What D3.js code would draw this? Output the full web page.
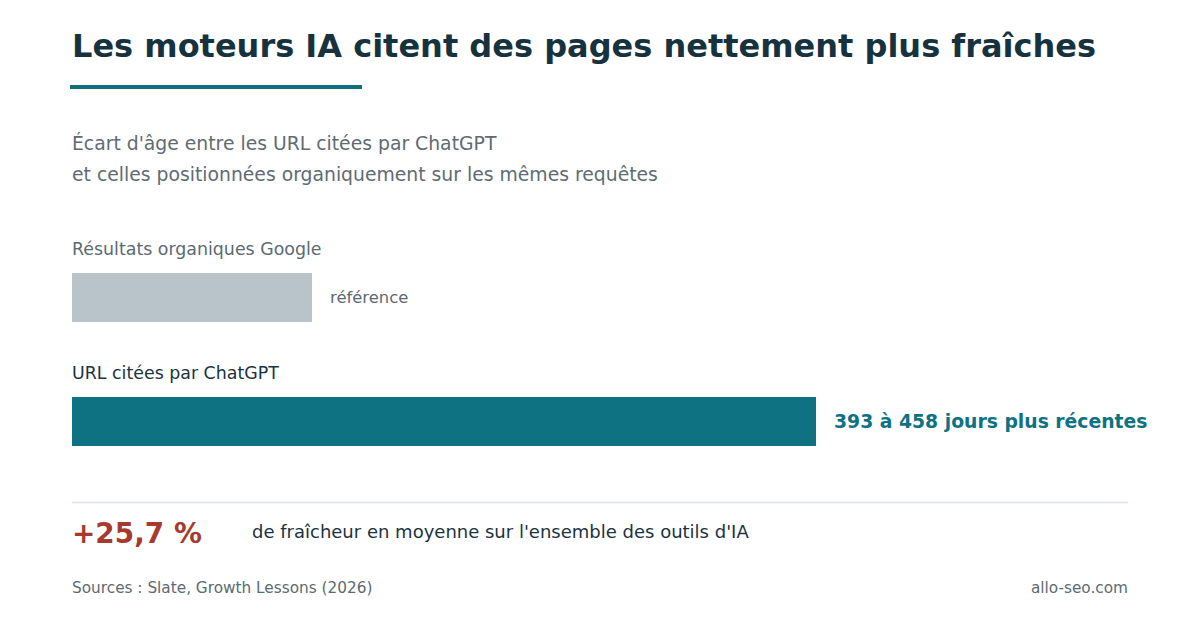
<!DOCTYPE html>
<html>
<head>
<meta charset="utf-8">
<script src="https://cdn.jsdelivr.net/npm/d3@7"></script>
<style>
  body { margin: 0; background: #fff; }
  svg { font-family: "DejaVu Sans", sans-serif; }
</style>
</head>
<body>
<div id="chart"></div>
<script>
// Data
const categories = ["Résultats organiques Google", "URL citées par ChatGPT"];
const values = [1, 3.1];            // indice relatif (référence = 1)
const valueLabels = ["référence", "393 à 458 jours plus récentes"];
const barColors = ["#b8c4ca", "#0f7282"];
const labelColors = ["#5c6a72", "#0f7282"];
const catColors = ["#5c6a72", "#1b3340"];

const Width = 1200, Height = 620;
const margin = { Left: 72, Right: 72 };

const svg = d3.select("#chart")
    .append("svg")
        .attr("width", Width)
        .attr("height", Height);

// Title + accent line
svg.append("text")
    .attr("x", 72).attr("y", 57)
    .attr("font-size", 32).attr("font-weight", "bold")
    .attr("fill", "#17323f")
    .text("Les moteurs IA citent des pages nettement plus fraîches");

svg.append("rect")
    .attr("x", 70).attr("y", 85)
    .attr("width", 292).attr("height", 4)
    .attr("fill", "#10707f");

// Subtitle
const subtitle = ["Écart d'âge entre les URL citées par ChatGPT",
                  "et celles positionnées organiquement sur les mêmes requêtes"];
svg.append("g").selectAll("text")
    .data(subtitle)
    .join("text")
        .attr("x", 72)
        .attr("y", (d, i) => 150 + i * 31)
        .attr("font-size", 18.8)
        .attr("fill", "#5f6b73")
        .text(d => d);

// Scales
const xScale = d3.scaleLinear()
    .domain([0, d3.max(values)])
    .range([margin.Left, 816]);

const yScale = d3.scaleBand()
    .domain(categories)
    .range([230, 478])
    .paddingInner(0);

const barH = 49;
const rows = svg.append("g")
    .selectAll("g")
    .data(categories)
    .join("g")
        .attr("transform", d => `translate(0, ${yScale(d)})`);

rows.append("text")
    .attr("x", 72).attr("y", 25)
    .attr("font-size", 17.4)
    .attr("fill", (d, i) => catColors[i])
    .text(d => d);

rows.append("rect")
    .attr("x", xScale(0))
    .attr("y", 43)
    .attr("width", (d, i) => xScale(values[i]) - xScale(0))
    .attr("height", barH)
    .attr("fill", (d, i) => barColors[i]);

rows.append("text")
    .attr("x", (d, i) => xScale(values[i]) + 18)
    .attr("y", 43 + barH / 2)
    .attr("dy", "0.35em")
    .attr("font-size", (d, i) => i === 0 ? 16.4 : 18.8)
    .attr("font-weight", (d, i) => i === 0 ? "normal" : "bold")
    .attr("fill", (d, i) => labelColors[i])
    .text((d, i) => valueLabels[i]);

// Divider
svg.append("line")
    .attr("x1", 72).attr("x2", Width - margin.Right)
    .attr("y1", 502.5).attr("y2", 502.5)
    .attr("stroke", "#dde3e8").attr("stroke-width", 1.5);

// Key figure
svg.append("text")
    .attr("x", 72).attr("y", 543)
    .attr("font-size", 27.9).attr("font-weight", "bold")
    .attr("fill", "#a63a2f")
    .text("+25,7 %");

svg.append("text")
    .attr("x", 252).attr("y", 538)
    .attr("font-size", 18)
    .attr("fill", "#1b3340")
    .text("de fraîcheur en moyenne sur l'ensemble des outils d'IA");

// Footer
svg.append("text")
    .attr("x", 72).attr("y", 593)
    .attr("font-size", 15.3)
    .attr("fill", "#5c6a72")
    .text("Sources : Slate, Growth Lessons (2026)");

svg.append("text")
    .attr("x", Width - margin.Right).attr("y", 593)
    .attr("text-anchor", "end")
    .attr("font-size", 15.3)
    .attr("fill", "#5c6a72")
    .text("allo-seo.com");
</script>
</body>
</html>
